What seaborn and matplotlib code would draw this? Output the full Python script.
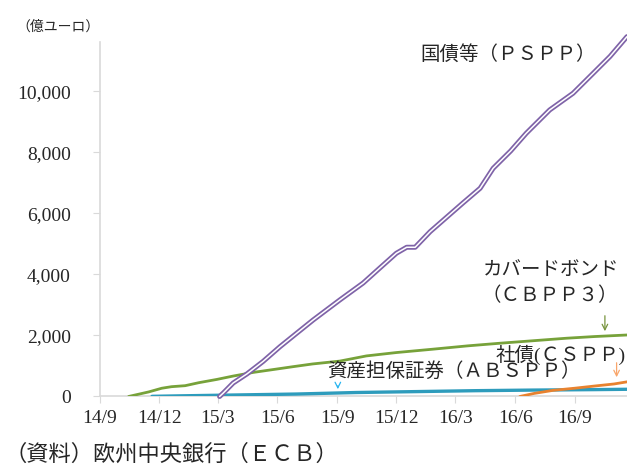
"""
ECB asset purchase programmes: cumulative holdings by programme.
Saves the chart as out.png.
"""

import matplotlib
matplotlib.use("Agg")  # no display
import matplotlib.pyplot as plt
import pandas as pd
import seaborn as sns

# ------------------------------------------------------------------
# data (億ユーロ)
# ------------------------------------------------------------------
pspp_dates = ["2015-03-04", "2015-03-10", "2015-03-25", "2015-04-15", "2015-05-10",
              "2015-06-05", "2015-07-01", "2015-07-26", "2015-09-05", "2015-10-11",
              "2015-11-05", "2015-12-01", "2015-12-17", "2015-12-30", "2016-01-22",
              "2016-02-15", "2016-03-12", "2016-04-08", "2016-04-28", "2016-05-25",
              "2016-06-18", "2016-07-24", "2016-08-29", "2016-09-29", "2016-10-25",
              "2016-11-20"]
pspp_vals = [0, 120, 443, 738, 1150,
             1633, 2080, 2508, 3164, 3721,
             4200, 4695, 4892, 4892, 5403,
             5850, 6334, 6826, 7480, 8050,
             8630, 9393, 9941, 10597, 11150,
             11797]

cbpp3_dates = ["2014-10-15", "2014-11-15", "2014-12-05", "2014-12-20", "2015-01-10",
               "2015-01-31", "2015-02-28", "2015-03-25", "2015-04-25", "2015-05-31",
               "2015-06-25", "2015-07-25", "2015-09-05", "2015-10-16", "2015-12-01",
               "2016-01-26", "2016-03-20", "2016-05-08", "2016-06-30", "2016-08-19",
               "2016-10-01", "2016-11-20"]
cbpp3_vals = [0, 150, 270, 321, 354,
              452, 560, 670, 790, 900,
              977, 1066, 1160, 1330, 1440,
              1550, 1660, 1745, 1830, 1910,
              1965, 2016]

abspp_dates = ["2014-11-20", "2014-12-31", "2015-03-31", "2015-06-30", "2015-09-30",
               "2015-12-31", "2016-03-31", "2016-06-30", "2016-09-30", "2016-11-20"]
abspp_vals = [5, 20, 50, 80, 130, 160, 190, 210, 225, 236]

cspp_dates = ["2016-06-08", "2016-06-30", "2016-07-29", "2016-08-31", "2016-09-30",
              "2016-10-31", "2016-11-20"]
cspp_vals = [0, 100, 200, 270, 340, 410, 480]

tick_dates = ["2014-09-01", "2014-12-01", "2015-03-01", "2015-06-01", "2015-09-01",
              "2015-12-01", "2016-03-01", "2016-06-01", "2016-09-01"]
tick_labels = ["14/9", "14/12", "15/3", "15/6", "15/9", "15/12", "16/3", "16/6", "16/9"]
y_ticks = [0, 2000, 4000, 6000, 8000, 10000]

# ------------------------------------------------------------------
# style
# ------------------------------------------------------------------
sns.set_style("white")
plt.rcParams["font.family"] = ["Liberation Serif", "Noto Sans CJK JP", "DejaVu Sans"]

PURPLE = "#7F63A8"
GREEN = "#77A23A"
BLUE = "#2E9CBC"
ORANGE = "#E8822F"
AXIS = "#D9D9D9"
TEXT = "#262626"

fig = plt.figure(figsize=(6.27, 4.67), dpi=100)
ax = fig.add_axes([0.1595, 0.151, 0.8405, 0.759])

d = pd.to_datetime

# PSPP drawn as a double line (purple outline, white core)
sns.lineplot(x=d(pspp_dates), y=pspp_vals, ax=ax, color=PURPLE, linewidth=3.6,
             clip_on=False, zorder=4)
sns.lineplot(x=d(pspp_dates), y=pspp_vals, ax=ax, color="white", linewidth=1.1,
             clip_on=False, zorder=5)
sns.lineplot(x=d(cbpp3_dates), y=cbpp3_vals, ax=ax, color=GREEN, linewidth=2.0, zorder=3)
sns.lineplot(x=d(abspp_dates), y=abspp_vals, ax=ax, color=BLUE, linewidth=2.4, zorder=3)
sns.lineplot(x=d(cspp_dates), y=cspp_vals, ax=ax, color=ORANGE, linewidth=2.0, zorder=3)

ax.set_xlim(d("2014-09-01"), d("2016-11-20"))
ax.set_ylim(0, 11620)
ax.set_xticks(d(tick_dates))
ax.set_xticklabels(tick_labels)
ax.set_yticks(y_ticks)
ax.set_yticklabels([f"{v:,}" for v in y_ticks])
ax.set_xlabel("")
ax.set_ylabel("")

for side in ["top", "right"]:
    ax.spines[side].set_visible(False)
for side in ["left", "bottom"]:
    ax.spines[side].set_color(AXIS)
    ax.spines[side].set_linewidth(1.2)

ax.tick_params(axis="y", left=True, length=5, color=AXIS, pad=16,
               labelsize=14, labelcolor=TEXT)
ax.tick_params(axis="x", bottom=True, length=5, color=AXIS, pad=5,
               labelsize=14, labelcolor=TEXT)

# ------------------------------------------------------------------
# labels and arrows
# ------------------------------------------------------------------
ax.text(d("2016-05-21"), 11200, "国債等（ＰＳＰＰ）", fontsize=14, color=TEXT,
        ha="center", va="center")
ax.text(d("2016-07-26"), 4115, "カバードボンド", fontsize=14, color=TEXT,
        ha="center", va="center")
ax.text(d("2016-07-24"), 3295, "（ＣＢＰＰ３）", fontsize=14, color=TEXT,
        ha="center", va="center")
ax.text(d("2016-11-18"), 1361, "社債(ＣＳＰＰ)", fontsize=14, color=TEXT,
        ha="right", va="center")
ax.text(d("2016-02-28"), 803, "資産担保証券（ＡＢＳＰＰ）", fontsize=14, color=TEXT,
        ha="center", va="center")

ax.annotate("", xy=(d("2016-10-17"), 2049), xytext=(d("2016-10-17"), 2738),
            arrowprops=dict(arrowstyle="->", color="#77933C", lw=0.9))
ax.annotate("", xy=(d("2016-11-04"), 541), xytext=(d("2016-11-04"), 1197),
            arrowprops=dict(arrowstyle="->", color="#F9A66B", lw=0.9))
ax.annotate("", xy=(d("2015-09-02"), 148), xytext=(d("2015-09-02"), 443),
            arrowprops=dict(arrowstyle="->", color="#29B5F0", lw=0.9))

fig.text(58 / 627, 1 - 27 / 467, "（億ユーロ）", fontsize=10, color=TEXT,
         ha="center", va="center")
fig.text(5 / 627, 1 - 455 / 467, "（資料）欧州中央銀行（ＥＣＢ）", fontsize=16,
         color=TEXT, ha="left", va="center")

fig.savefig("out.png", dpi=100)
plt.close(fig)
